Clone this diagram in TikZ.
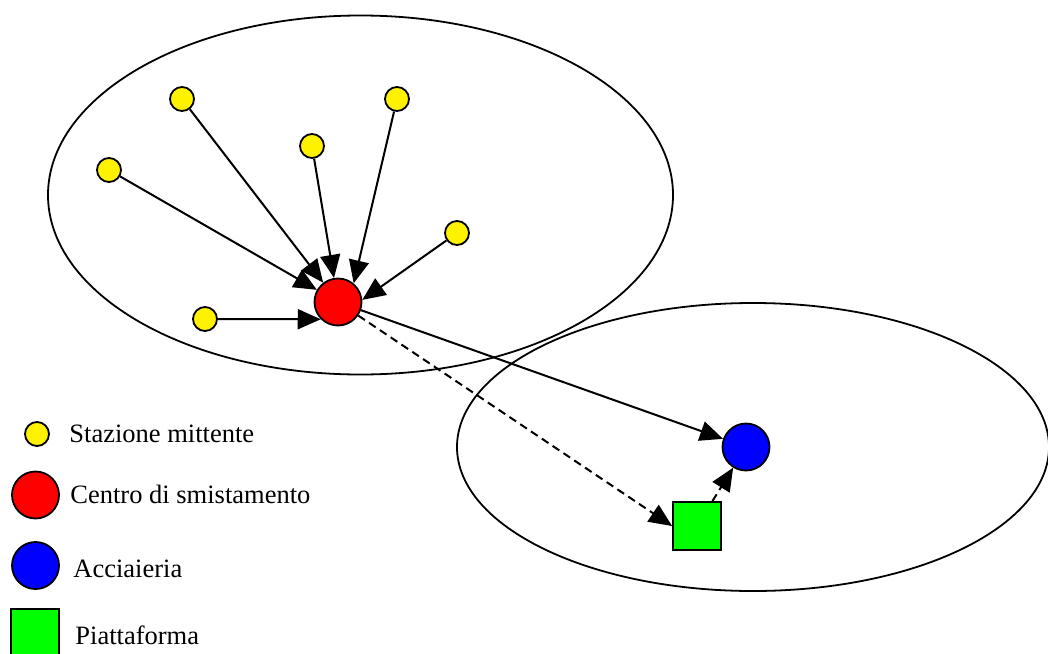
\documentclass[tikz,border=0pt]{standalone}
\usepackage{fontspec}
\setmainfont{Liberation Serif}
\usetikzlibrary{arrows.meta}
\begin{document}
\begin{tikzpicture}[x=0.5pt,y=-0.5pt,
 station/.style={circle,draw,line width=0.9pt,fill=yellow,minimum size=12pt,inner sep=0pt},
 hub/.style={circle,draw,line width=0.9pt,fill=red,minimum size=23.5pt,inner sep=0pt},
 steel/.style={circle,draw,line width=0.9pt,fill=blue,minimum size=23.5pt,inner sep=0pt},
 platform/.style={rectangle,draw,line width=0.9pt,fill=green,minimum size=24pt,inner sep=0pt},
 region/.style={draw,line width=0.9pt},
 flow/.style={line width=1pt,-{Triangle[length=11.5pt,width=10pt]}},
 dflow/.style={flow,dash pattern=on 4pt off 2.5pt},
 legtext/.style={anchor=base west,inner sep=0pt,font=\fontsize{13.25}{16}\selectfont}]
\useasboundingbox (0,0) rectangle (1048,653);
% regions
\draw[region] (360.5,195) ellipse [x radius=156.25pt, y radius=89.75pt];
\draw[region] (753,447) ellipse [x radius=148pt, y radius=72pt];
% nodes
\node[station] (s1) at (182,99) {};
\node[station] (s2) at (397,99) {};
\node[station] (s3) at (312,146) {};
\node[station] (s4) at (109,170) {};
\node[station] (s5) at (457,233) {};
\node[station] (s6) at (205,319) {};
\node[hub] (c) at (338,302) {};
\node[steel] (a) at (746,447) {};
\node[platform] (p) at (697,526) {};
% connectors
\foreach \s in {s1,s3,s4} \draw[flow] (\s) -- (c);
\draw[flow] (s2) -- (c.50);
\draw[flow] (s5) -- (c.5);
\draw[flow] (s6.east) -- (c.225);
\draw[flow] (c) -- (a);
\draw[dflow] (c) -- (p.west);
\draw[dflow] (p) -- (a);
% legend
\node[station] (ls) at (37,434) {};
\node[hub] (lc) at (35.5,495) {};
\node[steel] (la) at (35.5,565.5) {};
\node[platform] (lp) at (35,633) {};
\node[legtext] (ts) at (69,442) {Stazione mittente};
\node[legtext] (tc) at (70,503) {Centro di smistamento};
\node[legtext] (ta) at (73,577) {Acciaieria};
\node[legtext] (tp) at (75,644) {Piattaforma};
\end{tikzpicture}
\end{document}
